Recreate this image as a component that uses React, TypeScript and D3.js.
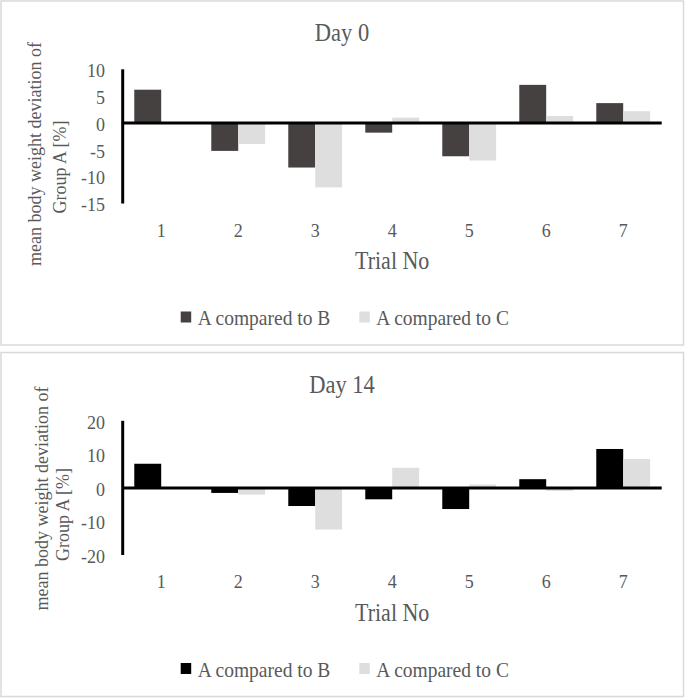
import React from "react";
import * as d3 from "d3";

const trials = ["1", "2", "3", "4", "5", "6", "7"];
const seriesNames = ["A compared to B", "A compared to C"];

const day0B = [6.2, -5.2, -8.3, -1.8, -6.2, 7.1, 3.7];
const day0C = [0, -3.9, -12.0, 1.0, -7.0, 1.3, 2.2];
const day0Ticks = [10, 5, 0, -5, -10, -15];

const day14B = [7.2, -1.5, -5.4, -3.4, -6.3, 2.6, 11.6];
const day14C = [0, -2.0, -12.4, 6.0, 1.0, -0.9, 8.6];
const day14Ticks = [20, 10, 0, -10, -20];

const FONT = "'Liberation Serif', 'Times New Roman', serif";
const TEXT = "#595959";
const SY = 1.1;

type HTextProps = {
  x: number;
  y: number;
  size: number;
  anchor?: "start" | "middle" | "end";
  children: React.ReactNode;
};

function HText({ x, y, size, anchor = "start", children }: HTextProps) {
  return (
    <text
      transform={`translate(${x},${y}) scale(1,${SY})`}
      textAnchor={anchor}
      dominantBaseline="central"
      fontSize={size}
      fill={TEXT}
      fontFamily={FONT}
    >
      {children}
    </text>
  );
}

type PanelProps = {
  top: number;
  title: string;
  b: number[];
  c: number[];
  ticks: number[];
  colorB: string;
  colorC: string;
  yl1: [number, number];
  yl2: [number, number];
};

function Panel({ top, title, b, c, ticks, colorB, colorC, yl1, yl2 }: PanelProps) {
  const x0 = 122.7;
  const x1 = 661.7;
  const yTop = 69.3;
  const yBot = 203.5;
  const x = d3.scaleBand<string>().domain(trials).range([x0, x1]).padding(0);
  const inner = d3
    .scaleBand<string>()
    .domain(seriesNames)
    .range([0, x.bandwidth()])
    .paddingInner(0)
    .paddingOuter(0.43);
  const y = d3
    .scaleLinear()
    .domain([d3.min(ticks) as number, d3.max(ticks) as number])
    .range([yBot, yTop]);
  const colors = [colorB, colorC];
  const series = [b, c];
  const plotCx = (x0 + x1) / 2;

  return (
    <g transform={`translate(0,${top})`}>
      <rect x={1} y={1} width={682.5} height={344} fill="#fff" stroke="#d9d9d9" strokeWidth={1.5} />
      <HText x={342} y={33} size={22.5} anchor="middle">
        {title}
      </HText>
      {series.map((vals, si) =>
        vals.map((v, i) => (
          <rect
            key={`${si}-${i}`}
            x={(x(trials[i]) as number) + (inner(seriesNames[si]) as number)}
            y={Math.min(y(v), y(0))}
            width={inner.bandwidth()}
            height={Math.abs(y(v) - y(0))}
            fill={colors[si]}
          />
        ))
      )}
      <line x1={x0} x2={x1} y1={y(0)} y2={y(0)} stroke="#000" strokeWidth={3} />
      <line x1={x0} x2={x0} y1={yTop} y2={yBot} stroke="#000" strokeWidth={3} />
      {ticks.map((t) => (
        <HText key={t} x={105} y={y(t) + 1} size={18} anchor="end">
          {t}
        </HText>
      ))}
      {trials.map((t) => (
        <HText key={t} x={(x(t) as number) + x.bandwidth() / 2} y={230} size={18} anchor="middle">
          {t}
        </HText>
      ))}
      <HText x={plotCx} y={261} size={22} anchor="middle">
        Trial No
      </HText>
      <text transform={`translate(${yl1[0]},${yl1[1]}) rotate(-90)`} textAnchor="middle" dominantBaseline="central" fontSize={18} fill={TEXT} fontFamily={FONT}>
        mean body weight deviation of
      </text>
      <text transform={`translate(${yl2[0]},${yl2[1]}) rotate(-90)`} textAnchor="middle" dominantBaseline="central" fontSize={18} fill={TEXT} fontFamily={FONT}>
        Group A [%]
      </text>
      {seriesNames.map((s, i) => {
        const lx = i === 0 ? 180.7 : 359.3;
        return (
          <g key={s}>
            <rect x={lx} y={311.5} width={10.5} height={11} fill={colors[i]} />
            <HText x={lx + 17} y={318} size={19.5}>
              {s}
            </HText>
          </g>
        );
      })}
    </g>
  );
}

export default function App() {
  return (
    <svg
      width={685}
      height={698}
      style={{ position: "absolute", left: 0, top: 0, background: "#fff" }}
    >
      <rect x={0} y={0} width={685} height={698} fill="#fff" />
      <Panel
        top={0}
        title="Day 0"
        b={day0B}
        c={day0C}
        ticks={day0Ticks}
        colorB="#454141"
        colorC="#dedede"
        yl1={[34.5, 154]}
        yl2={[60, 167]}
      />
      <Panel
        top={351.5}
        title="Day 14"
        b={day14B}
        c={day14C}
        ticks={day14Ticks}
        colorB="#000000"
        colorC="#dedede"
        yl1={[41.5, 147]}
        yl2={[63, 163]}
      />
    </svg>
  );
}
